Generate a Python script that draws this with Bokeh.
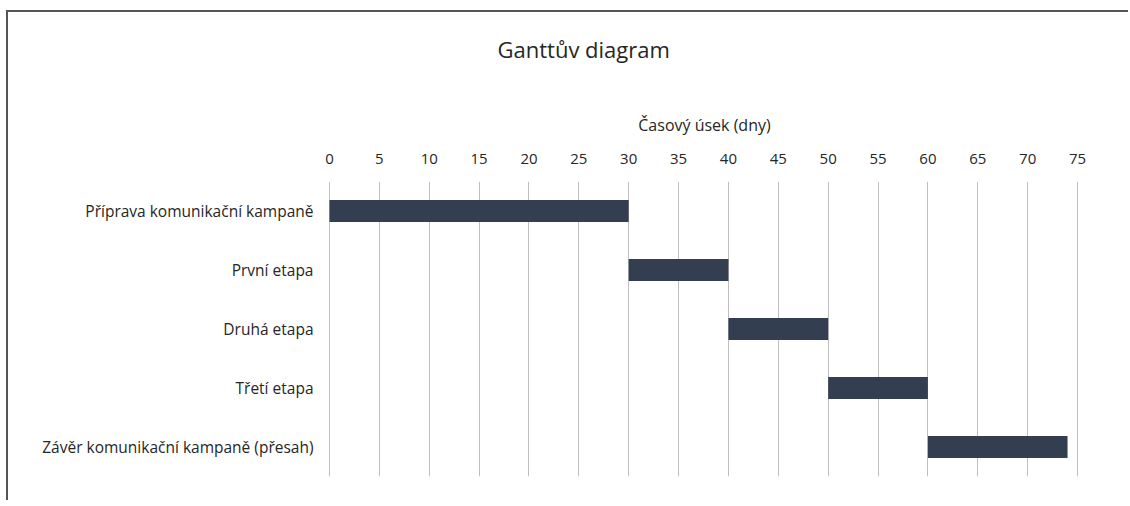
from bokeh.plotting import figure
from bokeh.models import FactorRange, Range1d, FixedTicker, Title
from bokeh.embed import file_html
from bokeh.resources import INLINE

tasks = ["Příprava komunikační kampaně", "První etapa", "Druhá etapa",
         "Třetí etapa", "Závěr komunikační kampaně (přesah)"]
starts = [0, 30, 40, 50, 60]
durations = [30, 10, 10, 10, 14]
x_ticks = [0, 5, 10, 15, 20, 25, 30, 35, 40, 45, 50, 55, 60, 65, 70, 75]

title_text = "Ganttův diagram"
x_title = "Časový úsek (dny)"

FONT = "Open Sans"
TXT = "#262626"
H = 490

ends = [s + d for s, d in zip(starts, durations)]

p = figure(width=1122, height=H, output_backend="svg", toolbar_location=None,
           title=None,
           x_axis_location="above",
           y_range=FactorRange(factors=list(reversed(tasks))),
           x_range=Range1d(-0.1, 75.3),
           min_border_left=320, min_border_right=50, min_border_bottom=26,
           min_border_top=168,
           styles={"border-top": "2px solid #555555", "border-left": "2px solid #555555",
                   "margin-top": "10px", "margin-left": "6px"})

p.hbar(y=tasks, left=starts, right=ends, height=0.37,
       fill_color="#333F50", line_color=None)

spacer = Title(text=" ", text_font_size="1px", standoff=25)
p.add_layout(spacer, "above")
main_title = Title(text=title_text, align="left", offset=169, standoff=38,
                   text_font=FONT, text_font_size="22px", text_font_style="normal",
                   text_color=TXT)
p.add_layout(main_title, "above")

xa = p.xaxis[0]
xa.ticker = FixedTicker(ticks=x_ticks)
xa.axis_label = x_title
xa.axis_label_text_font = FONT
xa.axis_label_text_font_size = "16px"
xa.axis_label_text_font_style = "normal"
xa.axis_label_text_color = TXT
xa.axis_label_standoff = 15
xa.major_label_text_font = FONT
xa.major_label_text_font_size = "15px"
xa.major_label_text_color = TXT
xa.major_label_standoff = 18
xa.axis_line_color = None
xa.major_tick_line_color = None
xa.minor_tick_line_color = None
xa.major_tick_out = 0
xa.major_tick_in = 0

ya = p.yaxis[0]
ya.major_label_text_font = FONT
ya.major_label_text_font_size = "15.5px"
ya.major_label_text_color = TXT
ya.major_label_standoff = 15
ya.axis_line_color = None
ya.major_tick_line_color = None
ya.major_tick_out = 0
ya.major_tick_in = 0

p.xgrid.grid_line_color = "#BFBFBF"
p.xgrid.grid_line_width = 1
p.ygrid.grid_line_color = None
p.outline_line_color = None

open("out.html", "w").write(file_html(p, INLINE))
